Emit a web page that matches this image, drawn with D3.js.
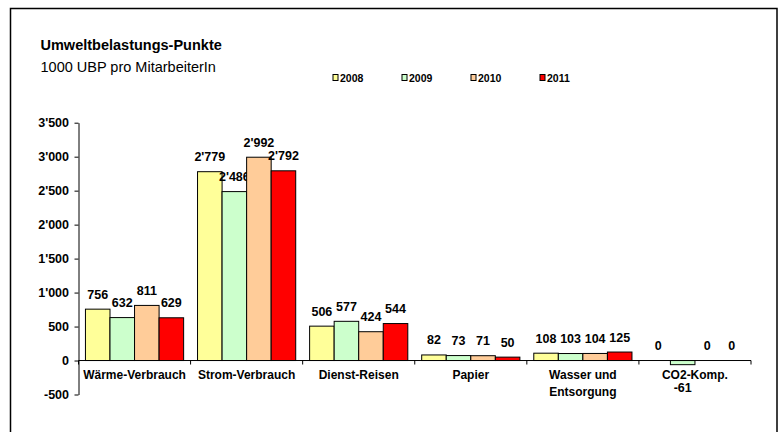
<!DOCTYPE html>
<html>
<head>
<meta charset="utf-8">
<script src="https://cdn.jsdelivr.net/npm/d3@7"></script>
<style>
  html, body { margin: 0; padding: 0; background: #fff; }
  svg { display: block; font-family: "Liberation Sans", Arial, sans-serif; }
</style>
</head>
<body>
<svg id="chart" width="779" height="432"></svg>
<script>
const categories = ["Wärme-Verbrauch", "Strom-Verbrauch", "Dienst-Reisen", "Papier", "Wasser und\nEntsorgung", "CO2-Komp."];
const years = ["2008", "2009", "2010", "2011"];
const values2008 = [756, 2779, 506, 82, 108, 0];
const values2009 = [632, 2486, 577, 73, 103, -61];
const values2010 = [811, 2992, 424, 71, 104, 0];
const values2011 = [629, 2792, 544, 50, 125, 0];
const seriesValues = [values2008, values2009, values2010, values2011];
const colors = ["#FFFF99", "#CCFFCC", "#FFCC99", "#FF0000"];
const yTicks = [-500, 0, 500, 1000, 1500, 2000, 2500, 3000, 3500];

const svg = d3.select("#chart");
const fmt = d3.formatLocale({decimal: ".", thousands: "'", grouping: [3], currency: ["", ""], minus: "-"}).format(",d");

// frame
svg.append("path")
  .attr("d", "M10.5,440 L10.5,8.5 L777,8.5 L777,440")
  .attr("fill", "none").attr("stroke", "#000").attr("stroke-width", 1.5);

// titles
svg.append("text").attr("x", 40.5).attr("y", 50).attr("font-size", "14.5px").attr("font-weight", "bold")
  .attr("fill", "#000").text("Umweltbelastungs-Punkte");
svg.append("text").attr("x", 40.5).attr("y", 71.5).attr("font-size", "14.5px")
  .attr("fill", "#000").text("1000 UBP pro MitarbeiterIn");

// legend
const legend = svg.append("g");
years.forEach((yr, i) => {
  const lx = 333 + i * 69;
  legend.append("rect").attr("x", lx).attr("y", 74.5).attr("width", 5).attr("height", 6)
    .attr("fill", colors[i]).attr("stroke", "#000").attr("stroke-width", 1);
  legend.append("text").attr("x", lx + 7).attr("y", 82).attr("font-size", "10.5px")
    .attr("font-weight", "bold").attr("fill", "#000").text(yr);
});

// scales
const x0 = d3.scaleBand().domain(categories).range([78.5, 751]).paddingInner(0).paddingOuter(0);
const bw = x0.bandwidth();
const x1 = d3.scaleBand().domain(years).range([bw * 0.062, bw * 0.938]).padding(0);
const y = d3.scaleLinear().domain([-500, 3500]).range([394.5, 122.7]);

// y axis
const yAxis = svg.append("g").attr("transform", "translate(78.5,0)")
  .call(d3.axisLeft(y).tickValues(yTicks).tickFormat(fmt).tickSize(4).tickSizeOuter(0));
yAxis.select(".domain").attr("stroke", "#000");
yAxis.selectAll(".tick line").attr("stroke", "#000");
yAxis.selectAll(".tick text").attr("font-size", "12.5px").attr("font-weight", "bold")
  .attr("font-family", "Liberation Sans, Arial, sans-serif").attr("fill", "#000").attr("x", -9.5);

// bars
const groups = svg.append("g").selectAll("g").data(categories).join("g")
  .attr("transform", d => `translate(${x0(d)},0)`);
groups.each(function(cat, ci) {
  const g = d3.select(this);
  years.forEach((yr, si) => {
    const v = seriesValues[si][ci];
    const top = y(Math.max(0, v));
    const bot = y(Math.min(0, v));
    if (v !== 0) {
      g.append("rect").attr("x", x1(yr)).attr("y", top).attr("width", x1.bandwidth())
        .attr("height", bot - top).attr("fill", colors[si]).attr("stroke", "#000").attr("stroke-width", 1);
    }
    const cx = x1(yr) + x1.bandwidth() / 2;
    g.append("text").attr("x", cx)
      .attr("y", v >= 0 ? y(v) - 10.5 : y(v) + 27)
      .attr("text-anchor", "middle").attr("font-size", "12.5px").attr("font-weight", "bold")
      .attr("fill", "#000").text(fmt(v));
  });
});

// category axis at zero
const xAxis = svg.append("g").attr("transform", `translate(0,${y(0)})`);
xAxis.append("line").attr("x1", 78.5).attr("x2", 751).attr("stroke", "#000").attr("stroke-width", 1);
const bounds = categories.map(c => x0(c)).concat([x0(categories[categories.length - 1]) + bw]);
xAxis.selectAll("line.tk").data(bounds).join("line").attr("class", "tk")
  .attr("x1", d => d).attr("x2", d => d).attr("y1", 0).attr("y2", 4).attr("stroke", "#000");
categories.forEach(c => {
  const lines = c.split("\n");
  const t = xAxis.append("text").attr("x", x0(c) + bw / 2).attr("y", 18.5)
    .attr("text-anchor", "middle").attr("font-size", "12px").attr("font-weight", "bold").attr("fill", "#000");
  lines.forEach((ln, i) => {
    t.append("tspan").attr("x", x0(c) + bw / 2).attr("dy", i === 0 ? 0 : 16.5).text(ln);
  });
});
</script>
</body>
</html>
